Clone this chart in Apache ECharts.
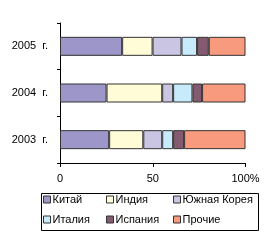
<!DOCTYPE html>
<html><head><meta charset="utf-8">
<script src="https://cdn.jsdelivr.net/npm/echarts@6/dist/echarts.min.js"></script>
<style>html,body{margin:0;padding:0;background:#fff}#c{width:270px;height:250px}</style>
</head><body><div id="c"></div>
<script>
const years = ['2003  г.', '2004  г.', '2005  г.'];
const seriesNames = ['Китай', 'Индия', 'Южная Корея', 'Италия', 'Испания', 'Прочие'];
const china = [26.5, 25.1, 33.5];
const india = [18.4, 30.0, 16.4];
const korea = [10.2, 5.9, 15.6];
const italy = [5.9, 10.4, 8.4];
const spain = [5.9, 5.2, 6.3];
const others = [33.1, 23.4, 19.8];
const xTicks = ['0', '50', '100%'];

const values = [china, india, korea, italy, spain, others];
const colors = ['#9d97c9', '#fffcd7', '#c9c5e3', '#c7ebfa', '#835a6f', '#f89a7e'];
const font = '"Liberation Sans", Arial, sans-serif';

const chart = echarts.init(document.getElementById('c'), null, {renderer: 'canvas'});
const legendPos = [[43, 194], [106, 194], [173, 194], [43, 214], [106, 214], [173, 214]];
chart.setOption({
  animation: false,
  grid: {left: 60, right: 24.5, top: 23, bottom: 87},
  xAxis: {
    type: 'value', min: 0, max: 100, interval: 50,
    axisLine: {show: true, lineStyle: {color: '#000', width: 1}},
    axisTick: {show: true, length: 4, lineStyle: {color: '#000'}},
    splitLine: {show: false},
    axisLabel: {color: '#000', fontSize: 11, fontFamily: font, margin: 10,
      formatter: (v) => xTicks[Math.round(v / 50)]}
  },
  yAxis: {
    type: 'category', data: years,
    axisLine: {show: true, lineStyle: {color: '#000', width: 1}},
    axisTick: {show: true, length: 3, lineStyle: {color: '#000'}},
    axisLabel: {color: '#000', fontSize: 11, fontFamily: font, margin: 12}
  },
  legend: seriesNames.map((n, i) => ({
    data: [n], left: legendPos[i][0], top: legendPos[i][1], padding: 0,
    icon: 'rect', itemWidth: 7, itemHeight: 7,
    itemStyle: {borderColor: '#333', borderWidth: 1},
    textStyle: {color: '#000', fontSize: 11, fontFamily: font, padding: [0, 0, 0, -3]}
  })),
  graphic: [{
    type: 'rect', shape: {x: 41.5, y: 193.5, width: 217, height: 37},
    style: {fill: 'none', stroke: '#000', lineWidth: 1}, z: -1
  }],
  series: seriesNames.map((n, i) => ({
    name: n, type: 'bar', stack: 'a', data: values[i], barWidth: 19,
    itemStyle: {color: colors[i], borderColor: '#333', borderWidth: 1}
  }))
});
</script></body></html>
